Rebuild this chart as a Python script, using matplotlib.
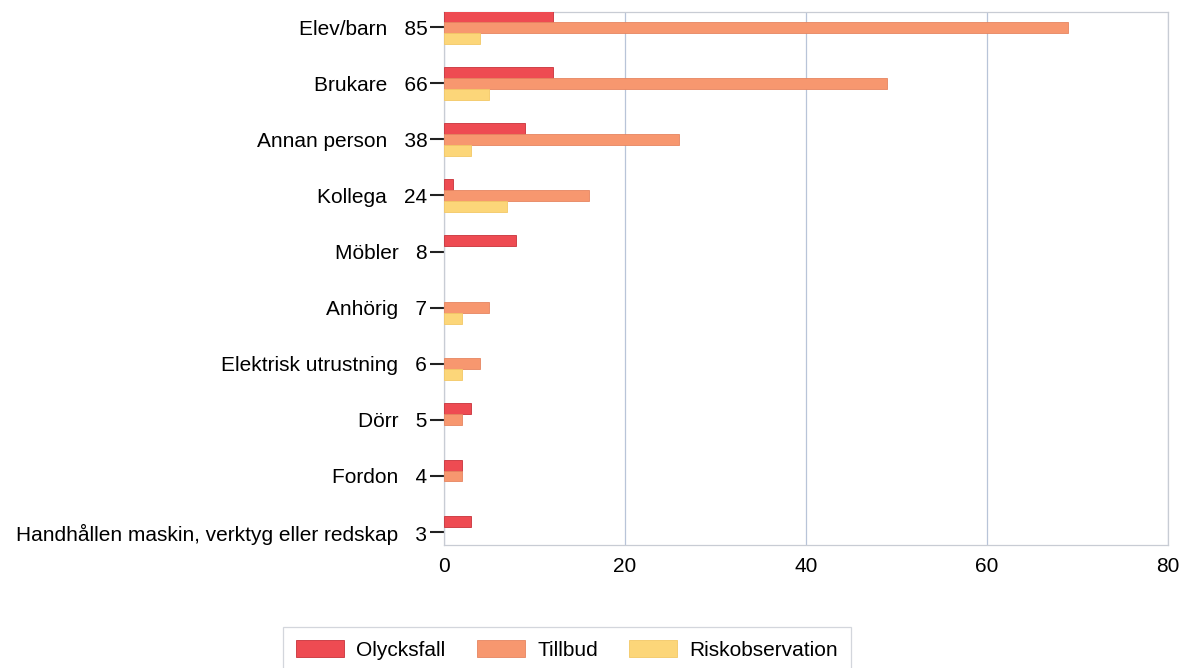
import numpy as np
import matplotlib.pyplot as plt

plt.rcParams['font.family'] = ['Liberation Sans', 'DejaVu Sans']

# data
categories = ['Elev/barn', 'Brukare', 'Annan person', 'Kollega', 'Möbler',
              'Anhörig', 'Elektrisk utrustning', 'Dörr', 'Fordon',
              'Handhållen maskin, verktyg eller redskap']
olycksfall = [12, 12, 9, 1, 8, 0, 0, 3, 2, 3]
tillbud = [69, 49, 26, 16, 0, 5, 4, 2, 2, 0]
riskobservation = [4, 5, 3, 7, 0, 2, 2, 0, 0, 0]
x_ticks = [0, 20, 40, 60, 80]

totals = [a + b + c for a, b, c in zip(olycksfall, tillbud, riskobservation)]
labels = [f'{c}   {t}' for c, t in zip(categories, totals)]

fig = plt.figure(figsize=(11.84, 6.68), dpi=100)
ax = fig.add_axes([444 / 1184, 1 - 545 / 668, (1168 - 444) / 1184, (545 - 12) / 668])

y = np.arange(len(categories))
h = 0.195
series = [
    (olycksfall, 'Olycksfall', '#EE4B52', '#C8323A', -h),
    (tillbud, 'Tillbud', '#F7976F', '#E68560', 0),
    (riskobservation, 'Riskobservation', '#FCD679', '#F3C865', h),
]
for vals, name, col, edge, off in series:
    edges = [edge if v > 0 else 'none' for v in vals]
    ax.barh(y + off, vals, height=h, color=col, edgecolor=edges, linewidth=0.6, label=name, zorder=3)

ax.set_ylim(len(categories) - 1 + 0.23, -0.27)
ax.set_xlim(0, 80)
ax.set_xticks(x_ticks)
ax.set_yticks(y)
ax.set_yticklabels(labels)
ax.tick_params(axis='y', length=10, width=1.5, color='#222222', labelsize=15, pad=2)
ax.tick_params(axis='x', length=0, labelsize=15, pad=9)
ax.grid(axis='x', color='#B8C4D8', linewidth=0.9, zorder=0)
for s in ax.spines.values():
    s.set_color('#C8CCD4')
    s.set_linewidth(0.9)

leg = fig.legend(loc='lower center', bbox_to_anchor=(0.479, -0.022), ncol=3, fontsize=15,
                 frameon=True, fancybox=False, edgecolor='#C8CCD4', handlelength=2.3,
                 handleheight=0.9, handletextpad=0.6, columnspacing=1.5, borderpad=0.6)
leg.get_frame().set_linewidth(0.9)

fig.savefig('out.png', dpi=100)
